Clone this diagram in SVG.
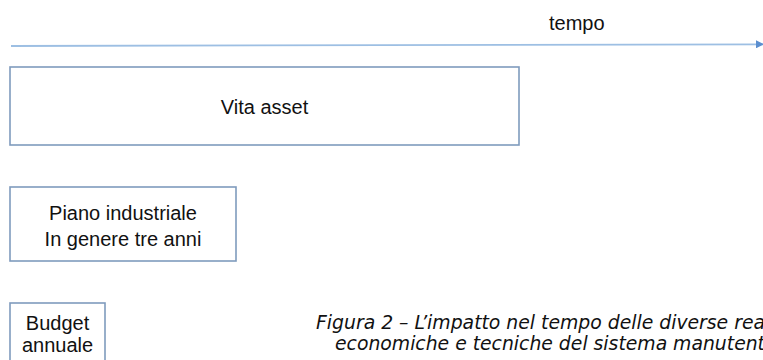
<svg xmlns="http://www.w3.org/2000/svg" width="763" height="360" viewBox="0 0 763 360">
<style>
.box{fill:#ffffff;stroke:#7f9bbd;stroke-width:1.6}
.lbl{font-family:"Liberation Sans",Arial,sans-serif;font-size:20px;fill:#111;text-anchor:middle}
.cap{font-family:"Liberation Sans Narrow","DejaVu Sans Condensed","Liberation Sans",sans-serif;font-style:italic;font-size:19px;fill:#111}
</style>
<defs>
<marker id="ah" markerWidth="8" markerHeight="8" refX="7" refY="4" orient="auto" markerUnits="userSpaceOnUse">
<path d="M0,0 L8,4 L0,8 Z" fill="#5b8fd0"/>
</marker>
</defs>
<rect width="763" height="360" fill="#ffffff"/>
<g id="connectors">
<line x1="11" y1="46" x2="763" y2="44.3" stroke="#9dbfe3" stroke-width="1.8" marker-end="url(#ah)"/>
</g>
<g id="tempo-label">
<text x="549" y="30" class="lbl" style="text-anchor:start">tempo</text>
</g>
<g id="vita-asset">
<rect x="10" y="67" width="509" height="78" class="box"/>
<text x="264.5" y="114" class="lbl">Vita asset</text>
</g>
<g id="piano-industriale">
<rect x="10" y="187" width="226" height="74" class="box"/>
<text x="123" y="220" class="lbl">Piano industriale</text>
<text x="123" y="246" class="lbl">In genere tre anni</text>
</g>
<g id="budget-annuale">
<rect x="10" y="303" width="95" height="70" class="box"/>
<text x="57.5" y="330" class="lbl">Budget</text>
<text x="57.5" y="352" class="lbl">annuale</text>
</g>
<g id="caption">
<text x="316" y="329" class="cap" textLength="449" lengthAdjust="spacingAndGlyphs">Figura 2 – L’impatto nel tempo delle diverse rea</text>
<text x="335" y="350" class="cap" textLength="430" lengthAdjust="spacingAndGlyphs">economiche e tecniche del sistema manutent</text>
</g>
</svg>
